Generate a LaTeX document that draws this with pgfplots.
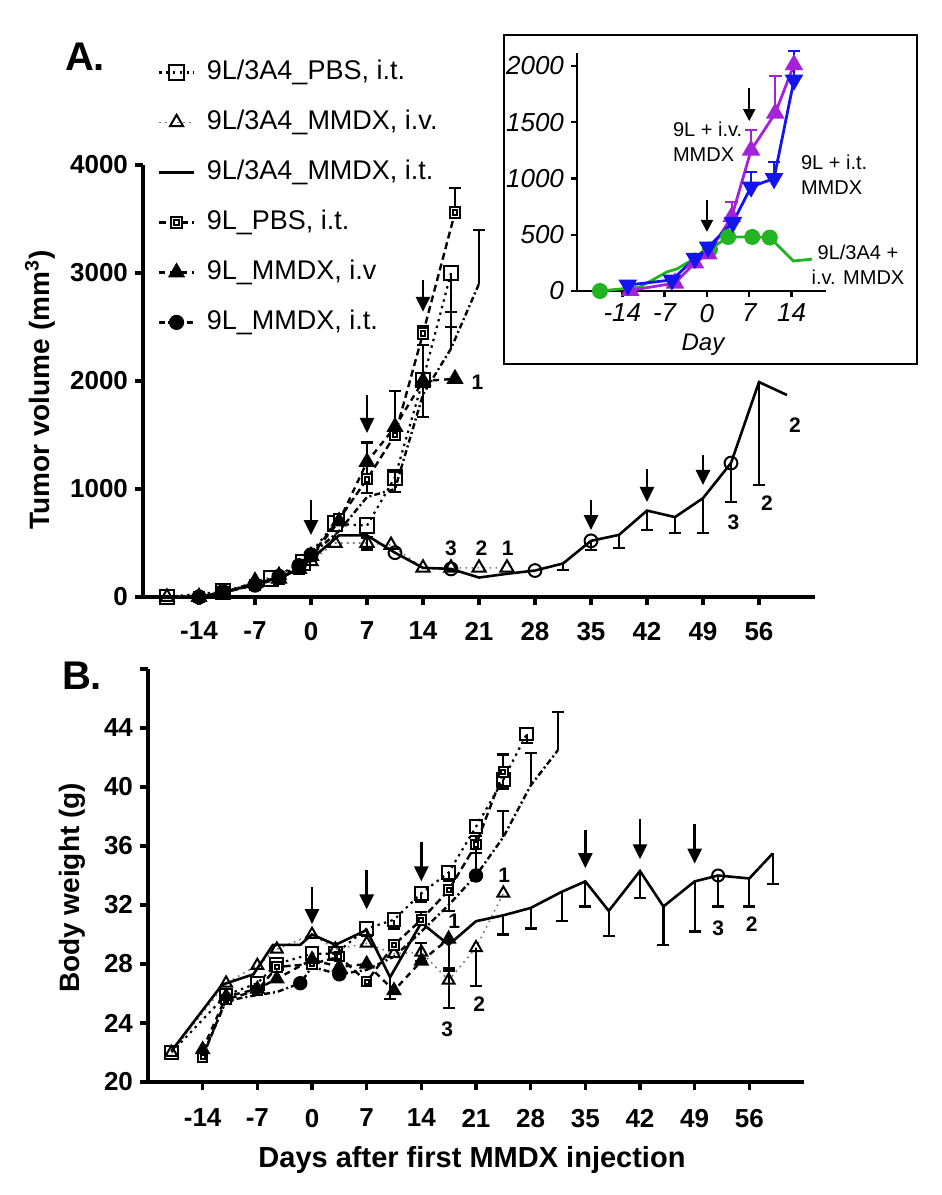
\documentclass[border=0pt]{standalone}
\usepackage{fontspec}
\setmainfont{Liberation Sans}
\usepackage{pgfplots}
\pgfplotsset{compat=1.18}
\usetikzlibrary{arrows.meta}

% square with a small square inside (9L_PBS)
\pgfdeclareplotmark{sqin}{%
  \pgfpathrectangle{\pgfpoint{-\pgfplotmarksize}{-\pgfplotmarksize}}{\pgfpoint{2\pgfplotmarksize}{2\pgfplotmarksize}}%
  \pgfusepathqfillstroke
  \pgfpathrectangle{\pgfpoint{-0.45\pgfplotmarksize}{-0.45\pgfplotmarksize}}{\pgfpoint{0.9\pgfplotmarksize}{0.9\pgfplotmarksize}}%
  \pgfusepathqstroke}

\definecolor{ivpurple}{RGB}{165,35,215}
\definecolor{itblue}{RGB}{20,20,240}
\definecolor{ggreen}{RGB}{35,180,35}

\pgfplotsset{
  panel/.style={scale only axis, anchor=south west, axis lines=left,
    axis line style={-, line width=1.8pt}, tick style={line width=1.6pt, black},
    tick align=outside, major tick length=4pt, clip=false,
    /pgf/number format/assume math mode=true, /pgf/number format/1000 sep={},
    scaled y ticks=false,
    tick label style={font=\bfseries\fontsize{13}{13}\selectfont},
    xmin=-21, xmax=63, xtick={-14,-7,...,56}},
  s1/.style={black, line width=1.1pt, dash pattern=on 1.2pt off 2.2pt, mark=square, mark size=3.7pt, mark options={solid, fill=white, line width=1pt}},
  s2/.style={black!55, line width=0.8pt, dash pattern=on 0.8pt off 2.2pt, mark=triangle, mark size=3.8pt, mark options={solid, black, fill=white, line width=1pt}},
  s3/.style={black, line width=1.3pt, mark=o, mark size=3.2pt, mark options={solid, fill=white, line width=1pt}},
  s4/.style={black, line width=1.2pt, dash pattern=on 3.5pt off 2pt, mark=sqin, mark size=2.6pt, mark options={solid, fill=white, line width=1pt}},
  s5/.style={black, line width=1.2pt, dash pattern=on 3pt off 2.5pt, mark=triangle*, mark size=3.8pt, mark options={solid}},
  s6/.style={black, line width=1.2pt, dash pattern=on 3pt off 1.5pt on 1pt off 1.5pt, mark=*, mark size=3.2pt, mark options={solid}},
  ebar/.style={forget plot, draw=none, mark=none,
    error bars/y explicit, error bars/error mark=|,
    error bars/error bar style={draw=black, solid, line width=1.1pt},
    error bars/error mark options={draw=black, solid, line width=1.1pt, mark size=3pt}},
}
\tikzset{arr/.style={line width=1.3pt, -{Triangle[length=7.5pt,width=7pt]}},
  num/.style={font=\bfseries\fontsize{10.5}{10.5}\selectfont}}

\begin{document}
\begin{tikzpicture}
\path[use as bounding box] (0,0) rectangle (471pt,597.5pt);

% ---------------- Panel A ----------------
\begin{axis}[panel, at={(71.5pt,299pt)}, width=336pt, height=216pt,
  ymin=0, ymax=4000, ytick={0,1000,...,4000},
  xticklabel style={yshift=-5pt},
  legend style={draw=none, fill=none, inner sep=0pt, at={(0.022,1.25)}, anchor=north west,
    font=\fontsize{13.5}{13.5}\selectfont, row sep=10pt,
    nodes={text height=10pt, text depth=3pt, inner sep=1pt},
    /tikz/every odd column/.append style={column sep=5pt}},
  legend cell align=left]
\addplot[s1] coordinates {(-18,0) (-11,50) (-5,170) (-1,320) (3,680) (7,660) (10.5,1110) (14,2010) (17.5,3000)};
\addlegendentry{9L/3A4\_PBS, i.t.}
\addplot[s2] coordinates {(-18,0) (-11,40) (-7,150) (-4,200) (0,330) (3,500) (7,500) (10,480) (14,270) (17.5,270) (21,270) (24.5,270)};
\addlegendentry{9L/3A4\_MMDX, i.v.}
\addplot[s3, mark indices={10,12,15,17,22}] coordinates {(-18,0) (-14,0) (-11,40) (-7,120) (-4,180) (-1.5,260) (0,350) (3.5,570) (7,570) (10.5,410) (14,270) (17.5,260) (21,180) (24.5,215) (28,245) (31.5,310) (35,520) (38.5,575) (42,800) (45.5,740) (49,915) (52.5,1240) (56,1990) (59.5,1870)};
\addlegendentry{9L/3A4\_MMDX, i.t.}
\addplot[s4] coordinates {(-14,0) (-11,40) (-7,110) (-4,170) (-1.5,260) (0,380) (3.5,720) (7,1090) (10.5,1500) (14,2440) (18,3560)};
\addlegendentry{9L\_PBS, i.t.}
\addplot[s5] coordinates {(-14,0) (-11,40) (-7,130) (-4,170) (-1.5,260) (0,380) (3.5,700) (7,1250) (10.5,1575) (14,2000) (18,2020)};
\addlegendentry{9L\_MMDX, i.v}
\addplot[s6, mark indices={1,2,3,4,5,6}, legend image post style={mark indices={2}}] coordinates {(-14,0) (-11,50) (-7,110) (-4,190) (-1.5,290) (0,390) (3.5,610) (7,925) (10.5,1000) (14,1875) (17.5,2300) (21,2900)};
\addlegendentry{9L\_MMDX, i.t.}
% error bars, upper side
\addplot[ebar, error bars/y dir=plus] coordinates {
 (10.5,1110) +- (0,50) (14,2010) +- (0,320) (7,1250) +- (0,180) (10.5,1575) +- (0,335)
 (3.5,700) +- (0,60) (7,1090) +- (0,120) (14,2440) +- (0,70) (18,3560) +- (0,230)
 (17.5,2300) +- (0,340) (21,2900) +- (0,500) (7,500) +- (0,50)};
% error bars, lower side
\addplot[ebar, error bars/y dir=minus] coordinates {
 (10.5,1110) +- (0,140) (14,2010) +- (0,340) (17.5,3000) +- (0,500) (7,1090) +- (0,130)
 (7,500) +- (0,60) (17.5,270) +- (0,30)
 (31.5,310) +- (0,60) (35,520) +- (0,85) (38.5,575) +- (0,125) (42,800) +- (0,180)
 (45.5,740) +- (0,150) (49,915) +- (0,325) (52.5,1240) +- (0,360) (56,1990) +- (0,950)};
% injection arrows
\draw[arr] (axis cs:0,898) -- (axis cs:0,574);
\draw[arr] (axis cs:7,1870) -- (axis cs:7,1519);
\draw[arr] (axis cs:14,2935) -- (axis cs:14,2640);
\draw[arr] (axis cs:35,898) -- (axis cs:35,620);
\draw[arr] (axis cs:42,1185) -- (axis cs:42,880);
\draw[arr] (axis cs:49,1315) -- (axis cs:49,1037);
% numbers of remaining animals
\node[num] at (axis cs:20.8,1990) {1};
\node[num] at (axis cs:17.5,450) {3};
\node[num] at (axis cs:21.3,450) {2};
\node[num] at (axis cs:24.6,450) {1};
\node[num] at (axis cs:52.8,695) {3};
\node[num] at (axis cs:57,870) {2};
\node[num] at (axis cs:60.5,1590) {2};
\end{axis}

% ---------------- Inset ----------------
\draw[line width=1pt] (252pt,415.5pt) rectangle (458.5pt,580pt);
\begin{axis}[scale only axis, anchor=south west, at={(288.5pt,452pt)}, width=124.5pt, height=119pt,
  axis lines=left, axis line style={-, line width=1.3pt}, tick style={line width=1.2pt, black},
  tick align=outside, major tick length=3pt, clip=false,
  /pgf/number format/assume math mode=true, /pgf/number format/1000 sep={}, scaled y ticks=false,
  tick label style={font=\itshape\fontsize{13}{13}\selectfont},
  xmin=-21.5, xmax=19.7, ymin=0, ymax=2115, xtick={-14,-7,0,7,14}, ytick={0,500,...,2000}]
\addplot[ggreen, line width=1.4pt, mark=*, mark size=3.3pt, mark indices={1,5,6,7,8}] coordinates {(-17.7,0) (-11.1,35) (-6.6,170) (-5,195) (0.5,370) (3.5,480) (7.5,480) (10.4,475) (14.3,267) (17.4,283)};
\addplot[ivpurple, line width=1.4pt, mark=triangle*, mark size=4pt] coordinates {(-12.7,5) (-5.3,70) (-2,250) (0.2,330) (4.1,660) (7.3,1250) (11.3,1580) (14.4,2010)};
\addplot[ivpurple, draw=none, mark=none, error bars/y dir=plus, error bars/y explicit, error bars/error mark=|,
  error bars/error bar style={draw=ivpurple, line width=1.2pt}, error bars/error mark options={draw=ivpurple, line width=1.2pt, mark size=3.2pt}]
  coordinates {(4.1,660) +- (0,130) (7.3,1250) +- (0,180) (11.3,1580) +- (0,330)};
\addplot[itblue, line width=1.4pt, mark=triangle*, mark size=4pt, mark options={rotate=180}] coordinates {(-13.1,53) (-5.8,98) (-2,290) (0.2,390) (4.3,610) (7.3,925) (11.1,1000) (14.4,1875)};
\addplot[itblue, draw=none, mark=none, error bars/y dir=plus, error bars/y explicit, error bars/error mark=|,
  error bars/error bar style={draw=itblue, line width=1.2pt}, error bars/error mark options={draw=itblue, line width=1.2pt, mark size=3.2pt}]
  coordinates {(7.3,925) +- (0,135) (11.1,1000) +- (0,145) (14.4,1875) +- (0,260)};
\draw[line width=1.1pt, -{Triangle[length=6pt,width=6pt]}] (axis cs:0,810) -- (axis cs:0,525);
\draw[line width=1.1pt, -{Triangle[length=6pt,width=6pt]}] (axis cs:7,1805) -- (axis cs:7,1510);
\end{axis}
\node[font=\itshape\fontsize{12}{12}\selectfont] at (351.5pt,425pt) {Day};
\node[anchor=west, align=left, font=\fontsize{10}{12.5}\selectfont] at (333pt,526.5pt) {9L + i.v.\\MMDX};
\node[anchor=west, align=left, font=\fontsize{10}{12.5}\selectfont] at (397pt,510pt) {9L + i.t.\\MMDX};
\node[align=center, font=\fontsize{10}{12.5}\selectfont] at (429pt,465pt) {9L/3A4 +\\i.v. MMDX};

% ---------------- Panel B ----------------
\begin{axis}[panel, at={(74pt,56.5pt)}, width=328pt, height=206.5pt,
  ymin=20, ymax=48, ytick={20,24,...,48}, yticklabels={20,24,28,32,36,40,44,{}},
  xticklabel style={yshift=-6pt}]
\addplot[s1, mark size=3.2pt] coordinates {(-18,22) (-11,25.9) (-7,26.7) (-4.5,28) (0,28.7) (3,28.7) (7,30.4) (10.5,31) (14,32.8) (17.5,34.2) (21,37.3) (24.5,40.5) (27.5,43.6)};
\addplot[s2, mark size=3.4pt] coordinates {(-18,22) (-11,26.7) (-7,27.9) (-4.5,29) (0,30) (3,29) (7,29.4) (10.5,28.7) (14,28.8) (17.5,26.9) (21,29.1) (24.5,32.8)};
\addplot[s3, mark size=3pt, mark indices={21}] coordinates {(-18,22.1) (-11.5,26.6) (-7.5,27.3) (-5,29.3) (-1.5,29.3) (0,30) (3,29.3) (7,30.3) (10,27.1) (14,30.8) (17.5,29.3) (21,30.9) (24.5,31.3) (28,31.8) (32,32.9) (35,33.6) (38,31.6) (42,34.3) (45,31.9) (49,33.6) (52,34.0) (56,33.8) (59,35.5)};
\addplot[s4, mark size=2.4pt] coordinates {(-14,21.7) (-11,25.6) (-7,26.2) (-4.5,27.8) (0,28) (3.5,28.5) (7,26.8) (10.5,29.3) (14,31) (17.5,33) (21,36.1) (24.5,41)};
\addplot[s5, mark size=3.4pt] coordinates {(-14,22.2) (-11,25.8) (-7,26.3) (-4.5,27) (0,28.3) (3.5,27.8) (7,28) (10.5,26.2) (14,28.2) (17.5,29.7)};
\addplot[s6, mark size=3pt, mark indices={5,7,12}] coordinates {(-14,21.8) (-11,25.5) (-7,25.9) (-4.5,26.1) (-1.5,26.7) (0,27.8) (3.5,27.3) (7,27.6) (10.5,28.5) (14,30.2) (17.5,32) (21,34) (24.5,36.6) (28,40.1) (31.5,42.5)};
\addplot[ebar, error bars/y dir=plus] coordinates {
 (17.5,26.9) +- (0,0.8) (24.5,41) +- (0,1.2) (21,36.1) +- (0,0.6) (14,31) +- (0,0.5) (14,28.8) +- (0,0.6)
 (21,34) +- (0,1.8) (24.5,36.6) +- (0,1.8) (28,40.1) +- (0,2.2) (31.5,42.5) +- (0,2.6)};
\addplot[ebar, error bars/y dir=minus] coordinates {
 (7,30.4) +- (0,0.5) (10.5,31) +- (0,0.6) (14,32.8) +- (0,0.6) (17.5,34.2) +- (0,0.6) (24.5,40.5) +- (0,0.6) (27.5,43.6) +- (0,0.6)
 (17.5,26.9) +- (0,1.9) (21,29.1) +- (0,2.6) (14,28.8) +- (0,0.6) (17.5,33) +- (0,1.4) (21,36.1) +- (0,0.6)
 (10,27.1) +- (0,1.5) (17.5,29.3) +- (0,1.8) (24.5,31.3) +- (0,1.3) (28,31.8) +- (0,1.4) (32,32.9) +- (0,2.0)
 (35,33.6) +- (0,1.7) (38,31.6) +- (0,1.7) (42,34.3) +- (0,1.8) (45,31.9) +- (0,2.6) (49,33.6) +- (0,3.4)
 (52,34.0) +- (0,2.1) (56,33.8) +- (0,1.9) (59,35.5) +- (0,2.1)};
\draw[arr] (axis cs:0,33.2) -- (axis cs:0,30.7);
\draw[arr] (axis cs:7,34.4) -- (axis cs:7,31.7);
\draw[arr] (axis cs:14,36.3) -- (axis cs:14,33.6);
\draw[arr] (axis cs:35,37.1) -- (axis cs:35,34.5);
\draw[arr] (axis cs:42,37.8) -- (axis cs:42,35.1);
\draw[arr] (axis cs:49,37.5) -- (axis cs:49,34.8);
\node[num] at (axis cs:24.6,34) {1};
\node[num] at (axis cs:18.2,30.9) {1};
\node[num] at (axis cs:17.3,23.6) {3};
\node[num] at (axis cs:21.4,25.3) {2};
\node[num] at (axis cs:52,30.4) {3};
\node[num] at (axis cs:56.3,30.7) {2};
\end{axis}

% panel letters and axis titles
\node[font=\bfseries\fontsize{20}{20}\selectfont] at (42.5pt,569pt) {A.};
\node[font=\bfseries\fontsize{20}{20}\selectfont] at (41pt,259.5pt) {B.};
\node[rotate=90, font=\bfseries\fontsize{14}{14}\selectfont] at (20pt,402.5pt) {Tumor volume (mm\textsuperscript{3})};
\node[rotate=90, font=\bfseries\fontsize{14}{14}\selectfont] at (36pt,153.5pt) {Body weight (g)};
\node[font=\bfseries\fontsize{14.5}{14.5}\selectfont] at (236pt,17.5pt) {Days after first MMDX injection};
\end{tikzpicture}
\end{document}
